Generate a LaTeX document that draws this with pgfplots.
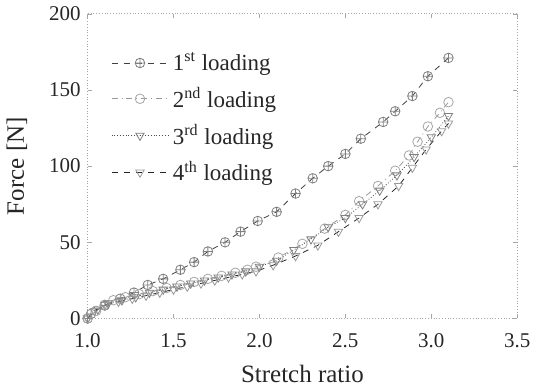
\documentclass[border=0pt]{standalone}
\usepackage{pgfplots}
\pgfplotsset{compat=1.18}
\usepackage{fontspec}
\setmainfont{Liberation Serif}
\begin{document}
\begin{tikzpicture}
\begin{axis}[
    scale only axis,
    width=215pt, height=152.5pt,
    xmin=1.0, xmax=3.5, ymin=0, ymax=200,
    xtick={1.0,1.5,...,3.5}, ytick={0,50,100,150,200},
    xticklabel style={/pgf/number format/fixed, /pgf/number format/fixed zerofill, /pgf/number format/precision=1, yshift=-4pt},
    /pgf/number format/assume math mode=true,
    tick label style={font=\fontsize{10.5}{12}\selectfont, black!85},
    xlabel={Stretch ratio}, ylabel={Force [N]},
    label style={font=\fontsize{12.5}{14}\selectfont, black!85},
    xlabel style={yshift=-2pt},
    ylabel style={yshift=4pt},
    axis line style={gray!70, densely dotted},
    tick style={gray!70, major tick length=2pt},
    legend cell align=left,
    legend style={at={(0.04,0.90)}, anchor=north west, draw=none, fill=none,
        font=\fontsize{11.5}{13}\selectfont, text=black!85, row sep=3pt},
    legend image code/.code={\draw[mark repeat=2,mark phase=2] plot coordinates {(0cm,0cm) (0.5cm,0cm) (1.0cm,0cm)};},
]
\addplot[black!75, dashed, mark=oplus, mark size=2.4pt, mark options={solid, fill=white, draw=gray}] coordinates {
(1.00,0) (1.02,3) (1.10,8.5) (1.19,13) (1.27,17) (1.35,22) (1.44,26) (1.54,32) (1.62,37)
(1.70,44) (1.80,50) (1.89,57) (1.99,64) (2.10,70) (2.21,82) (2.31,92) (2.40,100) (2.50,108)
(2.59,118) (2.72,129) (2.79,136) (2.89,146) (2.98,159) (3.10,171)
};
\addlegendentry{1\textsuperscript{st} loading}
\addplot[gray!80, dash dot, mark=o, mark size=2.4pt, mark options={solid, fill=white, draw=gray!70}] coordinates {
(1.00,0) (1.05,5) (1.10,9) (1.15,12) (1.22,14) (1.30,16) (1.38,18) (1.46,20) (1.54,22)
(1.62,24) (1.70,26) (1.78,28) (1.86,30) (1.93,32) (1.98,34) (2.11,40) (2.25,49) (2.38,59)
(2.50,68) (2.58,77) (2.69,87) (2.79,97) (2.87,107) (2.92,116) (2.98,126) (3.05,135) (3.10,142)
};
\addlegendentry{2\textsuperscript{nd} loading}
\addplot[black!70, densely dotted, mark=triangle, mark size=2.4pt, mark options={solid, rotate=180, fill=white, draw=gray}] coordinates {
(1.00,0) (1.06,6) (1.12,10) (1.20,12) (1.28,14) (1.36,17) (1.44,19) (1.52,21) (1.60,23)
(1.68,25) (1.76,27) (1.84,29) (1.92,31) (2.00,34) (2.10,38) (2.20,45) (2.30,52) (2.40,60)
(2.50,66) (2.60,75) (2.70,84) (2.80,94) (2.90,106) (3.00,119) (3.10,133)
};
\addlegendentry{3\textsuperscript{rd} loading}
\addplot[black!85, dashed, mark=triangle, mark size=2.4pt, mark options={solid, rotate=180, fill=white, draw=gray!80}] coordinates {
(1.00,0) (1.04,5) (1.10,9) (1.18,11) (1.26,13) (1.34,15) (1.42,17) (1.50,19) (1.58,21)
(1.66,23) (1.74,25) (1.82,27) (1.90,29) (1.98,31) (2.08,35) (2.21,41) (2.34,48) (2.46,57)
(2.58,66) (2.69,75) (2.81,87) (2.89,99) (2.97,111) (3.06,123) (3.10,128)
};
\addlegendentry{4\textsuperscript{th} loading}
\end{axis}
\end{tikzpicture}
\end{document}
